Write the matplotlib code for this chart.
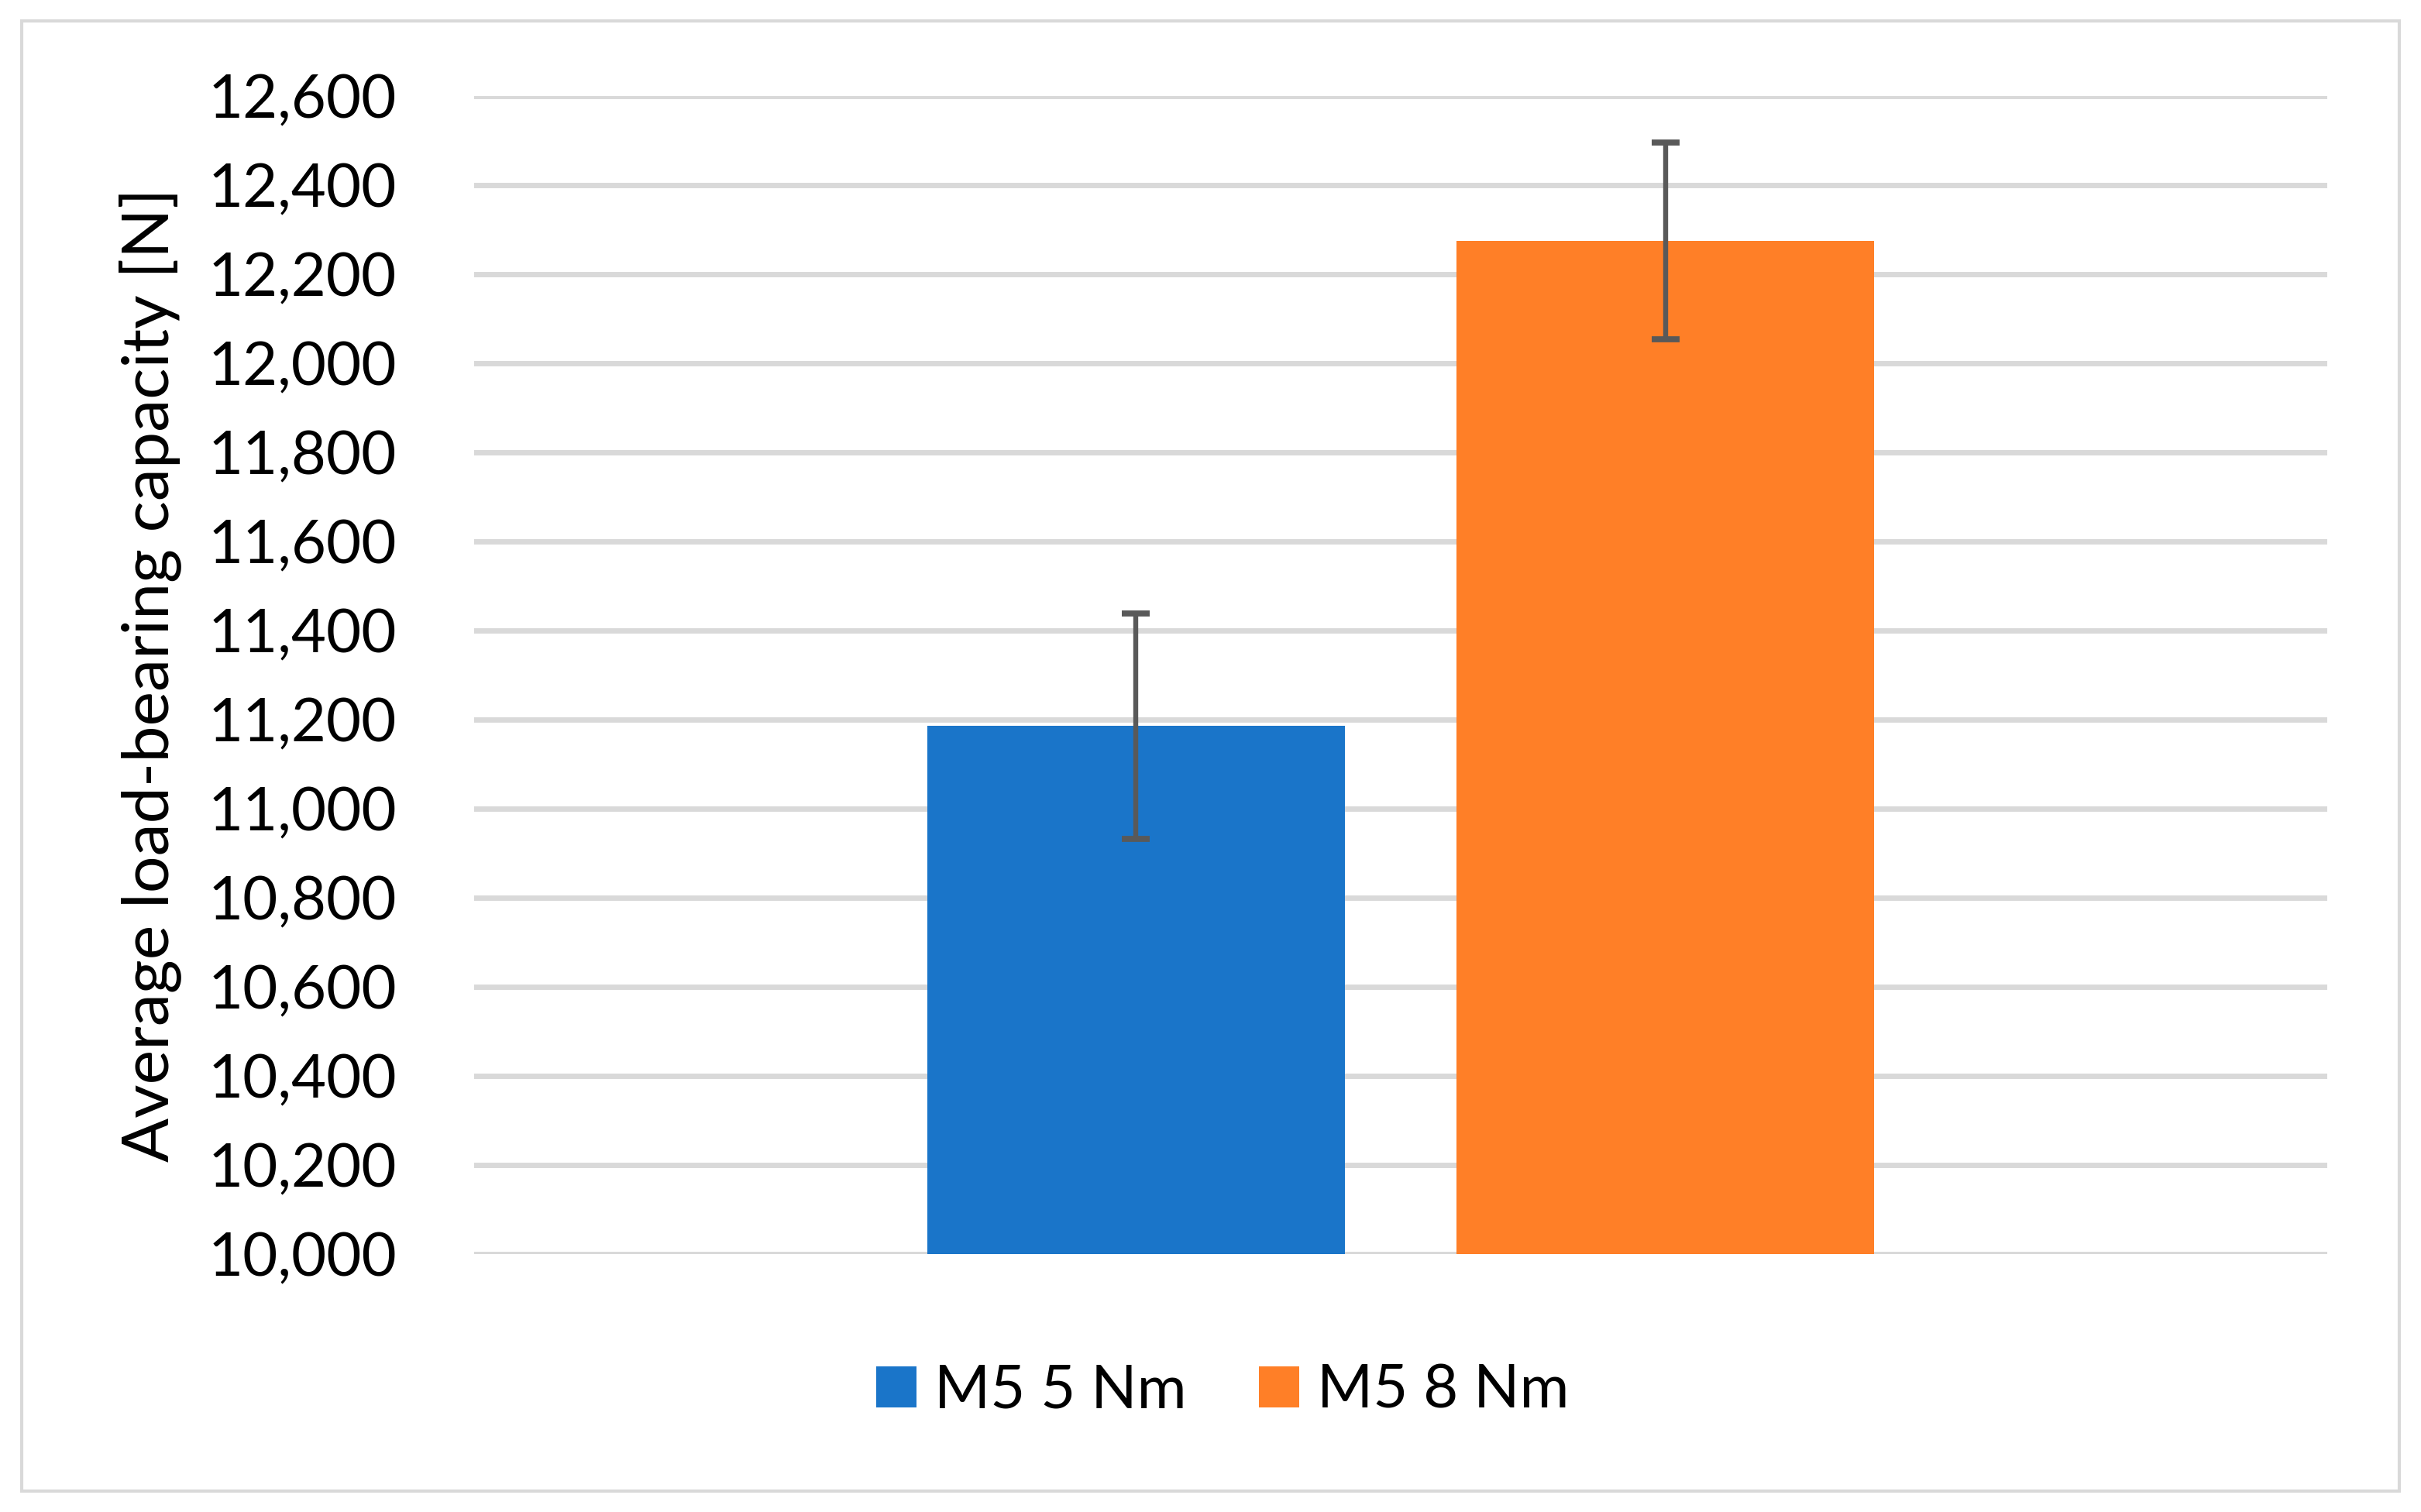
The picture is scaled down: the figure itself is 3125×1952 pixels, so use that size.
import numpy as np
import matplotlib
matplotlib.use('Agg')
import matplotlib.pyplot as plt
from matplotlib.ticker import StrMethodFormatter, MultipleLocator
from matplotlib.patches import Rectangle

# Data
SERIES = ["M5 5 Nm", "M5 8 Nm"]
MEANS = [11186, 12275]
ERRORS = [253, 221]
COLORS = ["#1A75C9", "#FF7F27"]

Y_MIN, Y_MAX, Y_STEP = 10000, 12600, 200

plt.rcParams['font.family'] = ['Lato', 'DejaVu Sans']

fig = plt.figure(figsize=(15.625, 9.76), dpi=200)
ax = fig.add_axes([0.1958, 0.1706, 0.7655, 0.7659])

x = np.arange(len(SERIES))
for i in range(len(SERIES)):
    ax.bar(x[i], MEANS[i] - Y_MIN, bottom=Y_MIN, width=0.788, color=COLORS[i],
           label=SERIES[i], zorder=2)
    ax.errorbar(x[i], MEANS[i], yerr=ERRORS[i], color='#595959', elinewidth=2.3,
                capsize=6.5, capthick=2.8, fmt='none', zorder=3)

ax.set_xlim(-1.25, 2.25)
ax.set_ylim(Y_MIN, Y_MAX)
ax.yaxis.set_major_locator(MultipleLocator(Y_STEP))
ax.yaxis.set_major_formatter(StrMethodFormatter('{x:,.0f}'))
ax.set_xticks([])
ax.tick_params(axis='y', length=0, pad=36, labelsize=28)
ax.grid(axis='y', color='#D9D9D9', lw=2.5, zorder=0)
ax.set_axisbelow(True)
for s in ax.spines.values():
    s.set_visible(False)

ax.set_ylabel('Average load-bearing capacity [N]', fontsize=30.4, va='center')
ax.yaxis.set_label_coords(-0.175, 0.5)

ax.legend(loc='center', bbox_to_anchor=(0.505, 0.080), bbox_transform=fig.transFigure,
          ncol=2, frameon=False, fontsize=28, handlelength=0.67, handleheight=0.67,
          handletextpad=0.3, columnspacing=1.2)

# outer chart border
fig.patches.append(Rectangle((0.009, 0.0138), 0.982, 0.9724, transform=fig.transFigure,
                             fill=False, edgecolor='#D9D9D9', lw=1.5))

fig.savefig('out.png', dpi=200)
